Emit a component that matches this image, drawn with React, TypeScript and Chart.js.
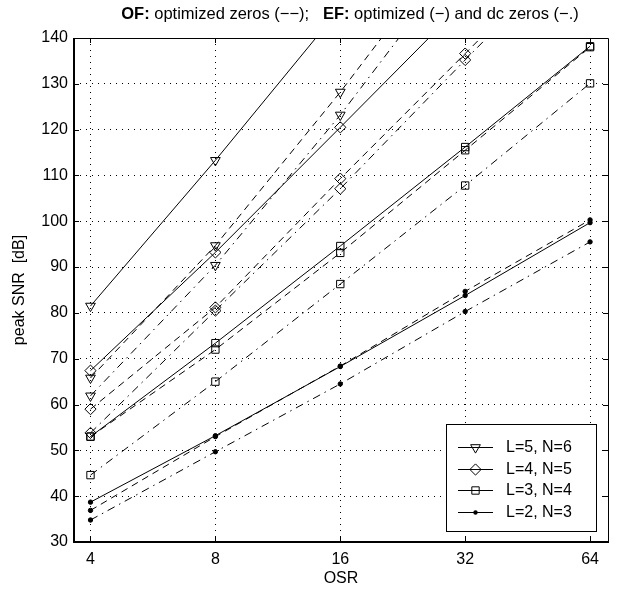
import React, { useEffect, useRef } from 'react';
import { Chart, registerables } from 'chart.js';

Chart.register(...registerables);

// ---- data ----
const OSR = [4, 8, 16, 32, 64];
const X_TICKS = [4, 8, 16, 32, 64];
const Y_TICKS = [30, 40, 50, 60, 70, 80, 90, 100, 110, 120, 130, 140];
const LEGEND_LABELS = ['L=5, N=6', 'L=4, N=5', 'L=3, N=4', 'L=2, N=3'];

// L=5, N=6 (triangles)
const L5_EF_OPT = [81.5, 113.3, 146.5, null, null];
const L5_OF = [65.8, 94.7, 128.2, 164, null];
const L5_EF_DC = [61.9, 90.4, 123.2, 159, null];
// L=4, N=5 (diamonds)
const L4_EF_OPT = [67.4, 93.2, 120.5, 148, null];
const L4_OF = [59.0, 81.2, 109.3, 136.6, 164];
const L4_EF_DC = [53.8, 80.5, 107.1, 135.2, 163];
// L=3, N=4 (squares)
const L3_EF_OPT = [53.0, 73.4, 94.6, 116.2, 138.2];
const L3_OF = [53.0, 72.0, 93.1, 115.5, 138.0];
const L3_EF_DC = [44.6, 65.0, 86.3, 107.8, 130.1];
// L=2, N=3 (dots)
const L2_EF_OPT = [38.7, 53.2, 68.3, 83.8, 99.7];
const L2_OF = [36.9, 53.0, 68.4, 84.7, 100.3];
const L2_EF_DC = [34.8, 49.7, 64.5, 80.3, 95.5];

const TITLE_PARTS = [
  { text: 'OF:', bold: true },
  { text: ' optimized zeros (\u2212\u2212);   ', bold: false },
  { text: 'EF:', bold: true },
  { text: ' optimized (\u2212) and dc zeros (\u2212.)', bold: false },
];

const FONT = '"Liberation Sans", Arial, Helvetica, sans-serif';
const SOLID: number[] = [];
const DASHED = [7, 5];
const DASHDOT = [8, 5, 1.5, 5];

type Marker = { style: string; radius: number; rotation: number; fill: boolean };
const MARKERS: Marker[] = [
  { style: 'triangle', radius: 5.6, rotation: 180, fill: false },
  { style: 'rectRot', radius: 5.6, rotation: 0, fill: false },
  { style: 'rect', radius: 5.2, rotation: 0, fill: false },
  { style: 'circle', radius: 2.2, rotation: 0, fill: true },
];

function makeDataset(values: (number | null)[], group: number, dash: number[]) {
  const m = MARKERS[group];
  return {
    data: values.map((v, i) => ({ x: OSR[i], y: v === null ? NaN : v })),
    borderColor: '#000',
    borderWidth: 1,
    borderDash: dash,
    backgroundColor: m.fill ? '#000' : 'rgba(0,0,0,0)',
    pointStyle: m.style,
    pointRadius: m.radius,
    pointRotation: m.rotation,
    pointBorderColor: '#000',
    pointBorderWidth: 1,
    pointBackgroundColor: m.fill ? '#000' : 'rgba(0,0,0,0)',
    pointHoverRadius: m.radius,
    fill: false,
    tension: 0,
    spanGaps: false,
  };
}

function drawMarker(ctx: CanvasRenderingContext2D, m: Marker, x: number, y: number) {
  ctx.beginPath();
  const r = m.radius;
  if (m.style === 'triangle') {
    for (let k = 0; k < 3; k++) {
      const a = Math.PI + (k * 2 * Math.PI) / 3;
      const px = x + Math.sin(a) * r;
      const py = y - Math.cos(a) * r;
      if (k === 0) ctx.moveTo(px, py);
      else ctx.lineTo(px, py);
    }
    ctx.closePath();
    ctx.stroke();
  } else if (m.style === 'rectRot') {
    ctx.moveTo(x, y - r);
    ctx.lineTo(x + r, y);
    ctx.lineTo(x, y + r);
    ctx.lineTo(x - r, y);
    ctx.closePath();
    ctx.stroke();
  } else if (m.style === 'rect') {
    const s = r * Math.SQRT1_2;
    ctx.rect(x - s, y - s, 2 * s, 2 * s);
    ctx.stroke();
  } else {
    ctx.arc(x, y, r, 0, Math.PI * 2);
    ctx.fillStyle = '#000';
    ctx.fill();
  }
}

const framePlugin = {
  id: 'frameTicks',
  afterDatasetsDraw(chart: any) {
    const { ctx, chartArea } = chart;
    const { left, right, top, bottom } = chartArea;
    const xs = chart.scales.x;
    const ys = chart.scales.y;
    const TL = 5;
    ctx.save();
    ctx.setLineDash([]);
    ctx.strokeStyle = '#000';
    ctx.lineWidth = 1;
    ctx.beginPath();
    X_TICKS.forEach((v) => {
      const px = Math.round(xs.getPixelForValue(v)) + 0.5;
      ctx.moveTo(px, bottom);
      ctx.lineTo(px, bottom - TL);
      ctx.moveTo(px, top);
      ctx.lineTo(px, top + TL);
    });
    Y_TICKS.forEach((v) => {
      const py = Math.round(ys.getPixelForValue(v)) + 0.5;
      ctx.moveTo(left, py);
      ctx.lineTo(left + TL, py);
      ctx.moveTo(right, py);
      ctx.lineTo(right - TL, py);
    });
    ctx.stroke();
    ctx.beginPath();
    ctx.moveTo(left, Math.round(top) + 0.5);
    ctx.lineTo(Math.round(right) + 0.5, Math.round(top) + 0.5);
    ctx.lineTo(Math.round(right) + 0.5, bottom);
    ctx.stroke();
    ctx.lineWidth = 2;
    ctx.beginPath();
    ctx.moveTo(Math.round(left), Math.round(top));
    ctx.lineTo(Math.round(left), Math.round(bottom));
    ctx.lineTo(Math.round(right) + 1, Math.round(bottom));
    ctx.stroke();
    ctx.restore();
  },
};

const legendPlugin = {
  id: 'boxLegend',
  afterDraw(chart: any) {
    const { ctx } = chart;
    const bx = 446.5;
    const by = 424.5;
    const bw = 150;
    const bh = 107;
    ctx.save();
    ctx.setLineDash([]);
    ctx.fillStyle = '#fff';
    ctx.fillRect(bx, by, bw, bh);
    ctx.strokeStyle = '#000';
    ctx.lineWidth = 1;
    ctx.strokeRect(bx, by, bw, bh);
    const rowY = [447, 468.5, 490, 511.5];
    ctx.font = `16px ${FONT}`;
    ctx.textBaseline = 'middle';
    ctx.textAlign = 'left';
    LEGEND_LABELS.forEach((label, i) => {
      const y = rowY[i];
      ctx.strokeStyle = '#000';
      ctx.lineWidth = 1;
      ctx.beginPath();
      ctx.moveTo(458, Math.round(y) + 0.5);
      ctx.lineTo(493, Math.round(y) + 0.5);
      ctx.stroke();
      drawMarker(ctx, MARKERS[i], 475.5, Math.round(y) + 0.5);
      ctx.fillStyle = '#000';
      ctx.fillText(label, 506, y + 1);
    });
    ctx.restore();
  },
};

const titlePlugin = {
  id: 'mixedTitle',
  afterDraw(chart: any) {
    const { ctx } = chart;
    const size = 16.5;
    ctx.save();
    let total = 0;
    const widths = TITLE_PARTS.map((p) => {
      ctx.font = `${p.bold ? 'bold ' : ''}${size}px ${FONT}`;
      const w = ctx.measureText(p.text).width;
      total += w;
      return w;
    });
    let x = 350 - total / 2;
    ctx.fillStyle = '#000';
    ctx.textBaseline = 'middle';
    ctx.textAlign = 'left';
    TITLE_PARTS.forEach((p, i) => {
      ctx.font = `${p.bold ? 'bold ' : ''}${size}px ${FONT}`;
      ctx.fillText(p.text, x, 14);
      x += widths[i];
    });
    ctx.restore();
  },
};

export default function App() {
  const ref = useRef<HTMLCanvasElement | null>(null);
  useEffect(() => {
    document.body.style.margin = '0';
    const canvas = ref.current;
    if (!canvas) return;
    const datasets = [
      makeDataset(L5_EF_OPT, 0, SOLID),
      makeDataset(L5_OF, 0, DASHED),
      makeDataset(L5_EF_DC, 0, DASHDOT),
      makeDataset(L4_EF_OPT, 1, SOLID),
      makeDataset(L4_OF, 1, DASHED),
      makeDataset(L4_EF_DC, 1, DASHDOT),
      makeDataset(L3_EF_OPT, 2, SOLID),
      makeDataset(L3_OF, 2, DASHED),
      makeDataset(L3_EF_DC, 2, DASHDOT),
      makeDataset(L2_EF_OPT, 3, SOLID),
      makeDataset(L2_OF, 3, DASHED),
      makeDataset(L2_EF_DC, 3, DASHDOT),
    ];
    const chart = new Chart(canvas, {
      type: 'line',
      data: { datasets: datasets as any },
      options: {
        animation: false,
        responsive: false,
        devicePixelRatio: 1,
        layout: { padding: { top: 38, right: 16, bottom: 0, left: 0 } },
        plugins: {
          legend: { display: false },
          tooltip: { enabled: false },
          title: { display: false },
        },
        elements: { line: { borderCapStyle: 'butt' } },
        scales: {
          x: {
            type: 'logarithmic',
            min: 3.65,
            max: 70.7,
            afterBuildTicks: (s: any) => {
              s.ticks = X_TICKS.map((v) => ({ value: v }));
            },
            afterFit: (s: any) => {
              s.height = 51;
            },
            ticks: {
              autoSkip: false,
              maxRotation: 0,
              padding: 8,
              color: '#000',
              font: { family: FONT, size: 16 },
              callback: (v: any) => String(v),
            },
            grid: { color: '#000', lineWidth: 1, drawTicks: false },
            border: { display: false, dash: [1, 5] },
            title: {
              display: true,
              text: 'OSR',
              color: '#000',
              font: { family: FONT, size: 16 },
              padding: { top: 0, bottom: 5 },
            },
          },
          y: {
            type: 'linear',
            min: 30,
            max: 140,
            afterBuildTicks: (s: any) => {
              s.ticks = Y_TICKS.map((v) => ({ value: v }));
            },
            afterFit: (s: any) => {
              s.width = 74;
            },
            ticks: {
              autoSkip: false,
              padding: 6,
              color: '#000',
              font: { family: FONT, size: 16 },
              callback: (v: any) => String(v),
            },
            grid: { color: '#000', lineWidth: 1, drawTicks: false },
            border: { display: false, dash: [1, 5] },
            title: {
              display: true,
              text: 'peak SNR  [dB]',
              color: '#000',
              font: { family: FONT, size: 16 },
              padding: { top: 10, bottom: 0 },
            },
          },
        },
      },
      plugins: [framePlugin, legendPlugin, titlePlugin],
    });
    return () => chart.destroy();
  }, []);
  return (
    <div style={{ width: 624, height: 593 }}>
      <canvas ref={ref} width={624} height={593} />
    </div>
  );
}
